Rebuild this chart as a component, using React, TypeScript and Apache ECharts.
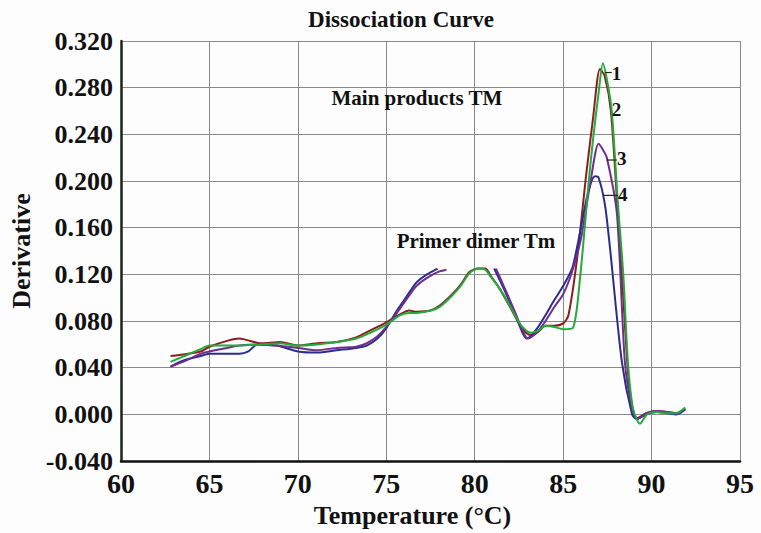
import React, { useEffect, useRef } from "react";
import * as echarts from "echarts";

const FONT = "'Liberation Serif', 'Times New Roman', serif";

const xTicks = { min: 60, max: 95, interval: 5 };
const yTicks = { min: -0.04, max: 0.32, interval: 0.04 };

const seriesNames = ["2", "4", "3", "1"];
const seriesColors = ["#8c1d1d", "#2c2c8e", "#6e2f8c", "#22aa3c"];

const redCurve: any[] = [
  [62.8, 0.05], [64.5, 0.054], [65.0, 0.058], [66.0, 0.063], [66.7, 0.065], [67.3, 0.063],
  [67.9, 0.061], [69.0, 0.062], [70.0, 0.059], [71.1, 0.061], [72.2, 0.062], [73.3, 0.066],
  [74.1, 0.072], [74.9, 0.078], [75.8, 0.086], [76.3, 0.089], [76.7, 0.088], [77.5, 0.089],
  [78.0, 0.093], [78.6, 0.101], [79.2, 0.111], [79.7, 0.122], [80.2, 0.125], [80.6, 0.125],
  [80.9, 0.119], [81.4, 0.108], [82.0, 0.092], [82.5, 0.078], [82.9, 0.07], [83.2, 0.068],
  [83.6, 0.071], [84.0, 0.076], [84.5, 0.076], [85.0, 0.078], [85.3, 0.085], [85.8, 0.135],
  [86.3, 0.205], [86.7, 0.255], [87.08, 0.296], [87.35, 0.29], [87.7, 0.26], [88.1, 0.17],
  [88.4, 0.1], [88.7, 0.03], [89.0, 0.0], [89.2, -0.003], [89.7, 0.001], [90.3, 0.003],
  [90.9, 0.002], [91.4, 0.001], [91.9, 0.005],
];

const greenCurve: any[] = [
  [62.8, 0.045], [64.5, 0.056], [65.0, 0.059], [66.7, 0.059], [67.9, 0.06], [69.0, 0.061],
  [70.0, 0.059], [71.1, 0.06], [72.2, 0.062], [73.3, 0.065], [74.1, 0.07], [74.9, 0.076],
  [75.8, 0.085], [76.3, 0.087], [76.7, 0.087], [77.5, 0.089], [78.0, 0.092], [78.6, 0.1],
  [79.2, 0.11], [79.7, 0.121], [80.2, 0.125], [80.6, 0.124], [80.9, 0.118], [81.4, 0.108],
  [82.0, 0.093], [82.5, 0.079], [82.9, 0.072], [83.2, 0.07], [83.6, 0.072], [84.0, 0.076],
  [84.5, 0.075], [85.0, 0.073], [85.55, 0.074], [85.95, 0.116], [86.45, 0.2], [86.7, 0.237],
  [87.0, 0.275], [87.25, 0.301], [87.5, 0.285], [87.75, 0.26], [88.1, 0.18], [88.4, 0.12],
  [88.66, 0.045], [88.95, 0.005], [89.34, -0.008], [89.75, 0.0], [90.3, 0.002], [90.9, 0.001],
  [91.4, 0.001], [91.9, 0.006],
];

const purpleCurve: any[] = [
  [62.8, 0.041], [63.5, 0.045], [64.5, 0.052], [65.0, 0.054], [66.0, 0.057], [66.7, 0.059],
  [67.7, 0.06], [68.8, 0.059], [70.0, 0.057], [71.1, 0.055], [72.2, 0.057], [73.3, 0.058],
  [73.9, 0.061], [74.5, 0.067], [75.0, 0.075], [75.6, 0.087], [76.3, 0.102], [76.7, 0.11],
  [77.3, 0.117], [77.9, 0.122], [78.4, 0.124], [79.8, "-"], [81.2, 0.125], [81.7, 0.108],
  [82.3, 0.087], [82.7, 0.072], [83.0, 0.065], [83.5, 0.07], [84.0, 0.08], [84.5, 0.092],
  [85.0, 0.103], [85.5, 0.122], [86.0, 0.15], [86.5, 0.195], [87.0, 0.232], [87.2, 0.228],
  [87.47, 0.22], [88.04, 0.172], [88.49, 0.045], [88.9, 0.005], [89.2, -0.004], [89.7, 0.001],
  [90.3, 0.003], [90.9, 0.002], [91.4, 0.001], [91.9, 0.005],
];

const blueCurve: any[] = [
  [62.8, 0.041], [63.5, 0.046], [64.5, 0.05], [65.0, 0.052], [66.0, 0.052], [66.7, 0.052],
  [67.2, 0.054], [67.7, 0.06], [68.8, 0.059], [70.0, 0.054], [71.1, 0.053], [72.2, 0.055],
  [73.3, 0.057], [73.9, 0.059], [74.5, 0.065], [75.0, 0.074], [75.6, 0.089], [76.1, 0.1],
  [76.7, 0.113], [77.3, 0.12], [77.9, 0.125], [79.5, "-"], [81.1, 0.125], [81.7, 0.106],
  [82.3, 0.085], [82.7, 0.07], [82.95, 0.065], [83.5, 0.073], [84.0, 0.085], [84.5, 0.098],
  [85.0, 0.11], [85.55, 0.127], [86.34, 0.186], [86.63, 0.201], [86.8, 0.204], [87.0, 0.203],
  [87.36, 0.18], [87.64, 0.144], [88.32, 0.045], [88.9, 0.0], [89.15, -0.004], [89.7, 0.0],
  [90.3, 0.002], [90.9, 0.001], [91.4, 0.0], [91.9, 0.004],
];

const curves = [redCurve, blueCurve, purpleCurve, greenCurve];

const noteTexts = ["Main products TM", "Primer dimer Tm"];
const noteAnchors = [[76.73, 0.271], [80.07, 0.149]];

const curveLabels = ["1", "2", "3", "4"];
const curveLabelAnchors = [[87.75, 0.292], [87.75, 0.261], [88.04, 0.219], [88.1, 0.1885]];

const leaderLines = [
  [[87.36, 0.293], [87.75, 0.293]],
  [[87.47, 0.218], [88.04, 0.218]],
  [[87.25, 0.1877], [88.1, 0.1877]],
];

export default function App() {
  const ref = useRef<HTMLDivElement>(null);

  useEffect(() => {
    document.body.style.margin = "0";
    const chart = echarts.init(ref.current!, null, { renderer: "svg" });
    const textBold = { fontFamily: FONT, fontWeight: "bold" as const, color: "#111" };
    chart.setOption({
      animation: false,
      backgroundColor: "#fdfdfd",
      title: {
        text: "Dissociation Curve",
        left: 396,
        top: 3,
        textAlign: "center",
        textStyle: { ...textBold, fontSize: 23 },
      },
      grid: { left: 121, right: 21, top: 41, bottom: 65, containLabel: false },
      xAxis: {
        type: "value",
        min: xTicks.min,
        max: xTicks.max,
        interval: xTicks.interval,
        name: "Temperature (°C)",
        nameLocation: "middle",
        nameGap: 37,
        nameTextStyle: { ...textBold, fontSize: 26, padding: [0, 36, 0, 0] },
        axisLine: { show: true, onZero: false, lineStyle: { color: "#111", width: 2.5 } },
        axisTick: { show: false },
        axisLabel: { ...textBold, fontSize: 28, margin: 8 },
        splitLine: { show: true, lineStyle: { color: "#8a8a8a", width: 1 } },
      },
      yAxis: {
        type: "value",
        min: yTicks.min,
        max: yTicks.max,
        interval: yTicks.interval,
        name: "Derivative",
        nameLocation: "middle",
        nameGap: 86,
        nameTextStyle: { ...textBold, fontSize: 26 },
        axisLine: { show: true, onZero: false, lineStyle: { color: "#1a241a", width: 2.5 } },
        axisTick: { show: false },
        axisLabel: {
          ...textBold,
          fontSize: 26,
          margin: 8,
          formatter: (v: number) => v.toFixed(3),
        },
        splitLine: { show: true, lineStyle: { color: "#8a8a8a", width: 1 } },
      },
      series: curves.map((data, i) => ({
        type: "line",
        name: seriesNames[i],
        data,
        smooth: 0.25,
        showSymbol: false,
        symbol: "none",
        connectNulls: false,
        lineStyle: { color: seriesColors[i], width: 2 },
        itemStyle: { color: seriesColors[i] },
        z: 2 + i,
      })),
    });

    const toPx = (p: number[]) => chart.convertToPixel({ gridIndex: 0 }, p) as number[];
    const graphics: any[] = [];
    noteTexts.forEach((t, i) => {
      const [x, y] = toPx(noteAnchors[i]);
      graphics.push({
        type: "text",
        x,
        y,
        z: 10,
        style: {
          text: t,
          fill: "#111",
          font: `bold 21px ${FONT}`,
          textAlign: "center",
          textVerticalAlign: "middle",
        },
      });
    });
    curveLabels.forEach((t, i) => {
      const [x, y] = toPx(curveLabelAnchors[i]);
      graphics.push({
        type: "text",
        x,
        y,
        z: 10,
        style: {
          text: t,
          fill: "#111",
          font: `bold 19px ${FONT}`,
          textAlign: "left",
          textVerticalAlign: "middle",
        },
      });
    });
    leaderLines.forEach((seg) => {
      const [x1, y1] = toPx(seg[0]);
      const [x2, y2] = toPx(seg[1]);
      graphics.push({
        type: "line",
        z: 10,
        shape: { x1, y1, x2, y2 },
        style: { stroke: "#222", lineWidth: 1.2 },
      });
    });
    chart.setOption({ graphic: graphics });

    return () => chart.dispose();
  }, []);

  return <div ref={ref} style={{ width: 761, height: 533 }} />;
}
